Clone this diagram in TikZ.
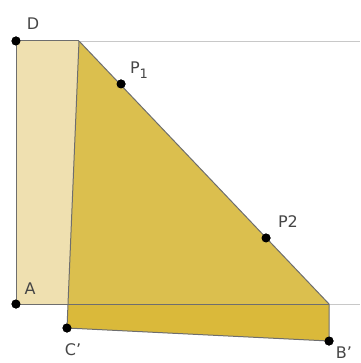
\documentclass[tikz,border=0pt]{standalone}
\usepackage{fontspec}
\setmainfont{DejaVu Sans}
\usetikzlibrary{positioning}

\definecolor{lightfill}{RGB}{239,224,176}
\definecolor{mainfill}{RGB}{219,191,78}
\definecolor{bandfill}{RGB}{218,185,58}
\definecolor{edgegray}{RGB}{110,110,110}
\definecolor{guidegray}{RGB}{200,200,200}
\definecolor{labelgray}{RGB}{70,70,70}

\begin{document}
\begin{tikzpicture}[
    x=1pt, y=-1pt,
    dot/.style={circle, fill=black, inner sep=0pt, minimum size=9pt},
    lbl/.style={text=labelgray, font=\fontsize{16}{18}\selectfont, inner sep=0pt},
    edge/.style={draw=edgegray, line width=1pt},
    guide/.style={draw=guidegray, line width=0.8pt}
]
\useasboundingbox (0,0) rectangle (360,363);

% Points
\coordinate (top) at (79,41);
\coordinate (foot) at (68,304);
\coordinate (corner) at (329,304);
\node[dot] (D) at (16,41) {};
\node[dot] (A) at (16,304) {};
\node[dot] (P1) at (121,84) {};
\node[dot] (P2) at (266,238) {};
\node[dot] (C) at (67,328) {};
\node[dot] (B) at (329,341) {};
\coordinate (Dend) at (360,41);
\coordinate (Aend) at (360,304);

% Fills
\fill[lightfill] (D.center) -- (top) -- (foot) -- (A.center) -- cycle;
\fill[mainfill] (top) -- (corner) -- (foot) -- cycle;
\fill[bandfill] (foot) -- (corner) -- (B.center) -- (C.center) -- cycle;

% Lines
\draw[guide] (top) -- (Dend);
\draw[guide] (corner) -- (Aend);
\draw[edge] (D.center) -- (top);
\draw[edge] (A.center) -- (corner);
\draw[edge] (D.center) -- (A.center);
\draw[edge] (top) -- (C.center);
\draw[edge] (top) -- (corner) -- (B.center) -- (C.center);

% Dots on top
\foreach \p in {D,A,P1,P2,C,B} \node[dot] at (\p) {};

% Labels
\node[lbl] (lD) at (33,24) {D};
\node[lbl] (lA) at (30,289) {A};
\node[lbl] (lP1) at (139,70) {P\raisebox{-5pt}{\fontsize{13}{13}\selectfont 1}};
\node[lbl] (lP2) at (288,222) {P2};
\node[lbl] (lC) at (73,350) {C'};
\node[lbl] (lB) at (344,353) {B'};
\end{tikzpicture}
\end{document}
